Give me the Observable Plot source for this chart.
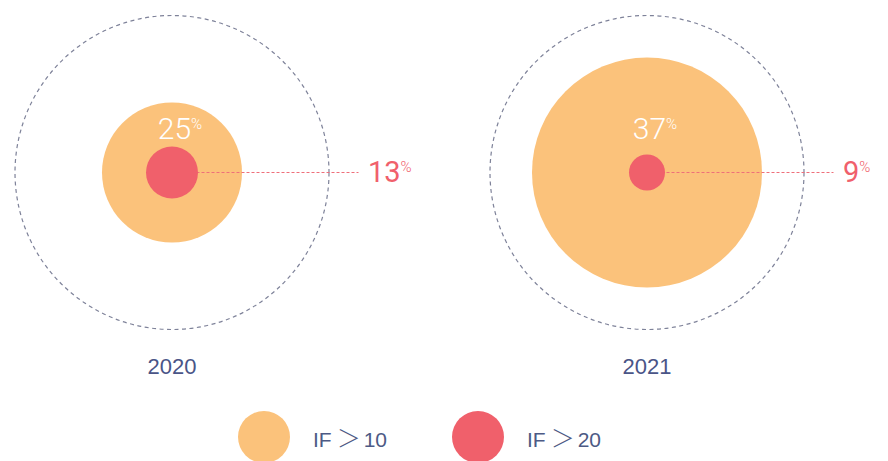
<!DOCTYPE html>
<html><head><meta charset="utf-8">
<script src="https://cdn.jsdelivr.net/npm/d3@7"></script>
<script src="https://cdn.jsdelivr.net/npm/@observablehq/plot@0.6"></script>
<style>
body{margin:0;background:#fff;width:888px;height:461px;overflow:hidden;font-family:"Liberation Sans",Arial,sans-serif}
#chart svg{display:block}
#legend{position:relative;height:61px;overflow:hidden}
.sw{position:absolute;top:11px;width:52px;height:52px;border-radius:50%}
.lb{position:absolute;top:24px;font-size:21px;color:#4D5A85;white-space:nowrap;line-height:26px}
.gt{font-family:"Noto Sans CJK SC",sans-serif;font-size:24px;font-weight:300;margin:0 3px 0 5px}
</style></head><body>
<div id="chart"></div><div id="legend"></div>
<script>
const years = ["2020", "2021"];
const ifOver10 = [25, 37];
const ifOver20 = [13, 9];
const seriesNames = ["IF ＞10", "IF ＞20"];
const seriesColors = ["#FBC27B", "#F0606B"];

const rows = years.map((year, i) => ({year, row: "circles", over10: ifOver10[i], over20: ifOver20[i]}));
const yearRows = years.map(year => ({year, row: "years"}));

const plot = Plot.plot({
  width: 888, height: 400, margin: 0,
  x: {type: "band", domain: years, range: [-66.5, 883.5], padding: 0, axis: null},
  y: {type: "point", domain: ["circles", "years"], range: [172, 366], padding: 0, axis: null},
  r: {type: "linear", domain: [0, 9, 13, 25, 37], range: [0, 18, 26, 70, 115]},
  marks: [
    Plot.dot(rows, {x: "year", y: "row", r: 157, stroke: "#7E8299", strokeWidth: 1.2, strokeDasharray: "4,3.5", fill: "none"}),
    Plot.dot(rows, {x: "year", y: "row", r: "over10", fill: seriesColors[0]}),
    Plot.tickY(rows, {x: "year", y: "row", stroke: "#EE6F7A", strokeWidth: 1, strokeDasharray: "3,2", insetLeft: 237.5, insetRight: 50.5}),
    Plot.dot(rows, {x: "year", y: "row", r: "over20", fill: seriesColors[1]}),
    Plot.text(rows, {x: "year", y: "row", text: d => d.over10 + "%", dy: -43, dx: 8, fill: "white", fontSize: 30, fontWeight: 300, fontFamily: "Roboto"}),
    Plot.text(rows, {x: "year", y: "row", text: d => d.over20 + "%", dx: 196, textAnchor: "start", fill: seriesColors[1], fontSize: 29, fontWeight: 400, fontFamily: "Roboto"}),
    Plot.text(yearRows, {x: "year", y: "row", text: "year", fill: "#4A5587", fontSize: 22, fontFamily: "Liberation Sans"})
  ]
});
document.getElementById("chart").append(plot);

// smaller raised percent sign
plot.querySelectorAll("text").forEach(t => {
  const s = t.textContent;
  if (s.endsWith("%")) {
    t.textContent = s.slice(0, -1);
    const ts = document.createElementNS("http://www.w3.org/2000/svg", "tspan");
    ts.setAttribute("font-size", "15");
    ts.setAttribute("font-weight", "300");
    ts.setAttribute("dy", "-10");
    ts.textContent = "%";
    t.append(ts);
  }
});

// legend
const legend = document.getElementById("legend");
const swLeft = [238, 452];
seriesNames.forEach((name, i) => {
  const sw = document.createElement("div");
  sw.className = "sw";
  sw.style.left = swLeft[i] + "px";
  sw.style.background = seriesColors[i];
  const lb = document.createElement("div");
  lb.className = "lb";
  lb.style.left = (swLeft[i] + 75) + "px";
  const [a, b] = name.split("＞");
  const gt = document.createElement("span");
  gt.className = "gt";
  gt.textContent = "＞";
  lb.append(document.createTextNode(a.trimEnd()), gt, document.createTextNode(b));
  legend.append(sw, lb);
});
</script>
</body></html>
